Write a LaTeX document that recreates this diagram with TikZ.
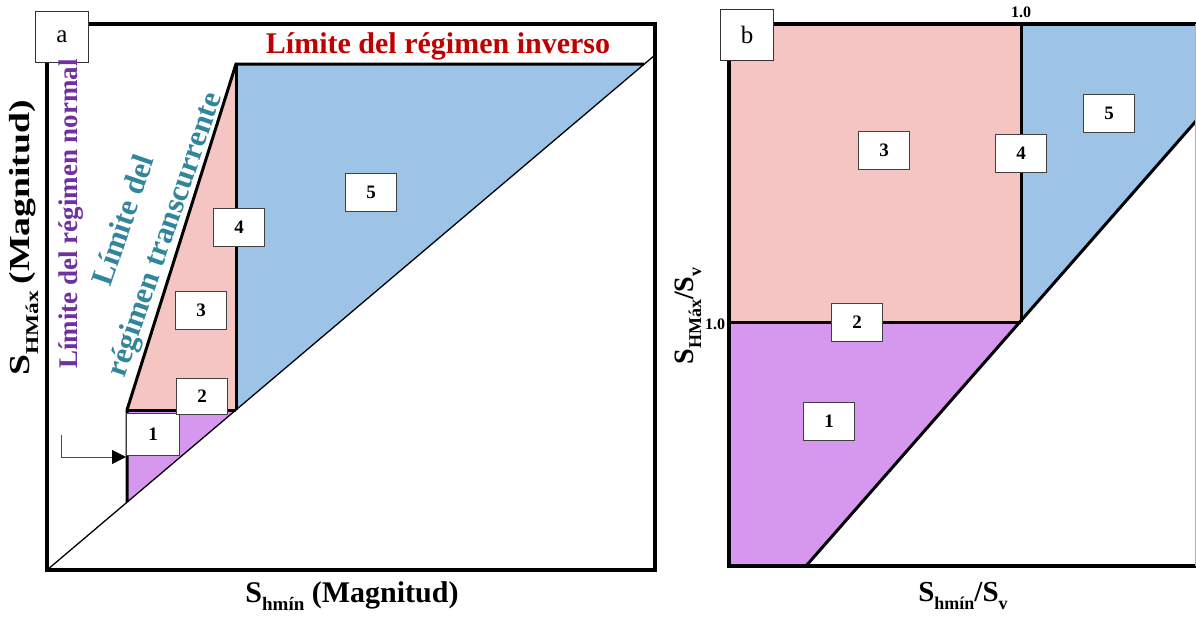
\documentclass[tikz,border=0pt]{standalone}
\usepackage{fontspec}
\usepackage{graphicx}
\setmainfont{Liberation Serif}
\usetikzlibrary{arrows.meta}
\definecolor{pinkc}{HTML}{F4C5C2}
\definecolor{bluec}{HTML}{9DC3E6}
\definecolor{purplec}{HTML}{D598EE}
\definecolor{purpletxt}{HTML}{7030A0}
\definecolor{tealtxt}{HTML}{31859C}
\definecolor{redtxt}{HTML}{C00000}
\newcommand{\mysub}[2]{\raisebox{-0.28em}{\fontsize{#1}{#1}\selectfont #2}}
\tikzset{
  numbox/.style={draw=black!75, fill=white, line width=0.9pt, minimum width=51pt, minimum height=38pt, inner sep=0pt, font=\bfseries\fontsize{19}{19}\selectfont},
  letterbox/.style={draw=black!80, fill=white, line width=1pt, minimum width=53pt, minimum height=51pt, inner sep=0pt, font=\fontsize{25}{25}\selectfont},
  frame/.style={line width=3.2pt},
  bound/.style={line width=3pt},
  ticklabel/.style={font=\bfseries\fontsize{16}{16}\selectfont, inner sep=0pt},
}
\begin{document}
\begin{tikzpicture}[x=1pt,y=-1pt]
\useasboundingbox (0,0) rectangle (1196,616);
% ---------- panel a ----------
\fill[pinkc] (127,410) -- (236,64) -- (236,410) -- cycle;
\fill[bluec] (236,64) -- (644,64) -- (236,410) -- cycle;
\fill[purplec] (127,410) -- (236,410) -- (127,502) -- cycle;
\node[font=\bfseries\fontsize{31}{43}\selectfont, text=tealtxt, rotate=71, align=center, inner sep=0pt] (tra) at (146,228) {Límite del\\régimen transcurrente};
\draw[line width=1.3pt] (47,570) -- (655,55);
\draw[bound, line join=miter] (127,502) -- (127,410) -- (236,64) -- (644,64);
\draw[bound] (127,410) -- (236,410);
\draw[bound] (236,64) -- (236,410);
\draw[frame] (47,24) rectangle (655,570);
\node[letterbox] (la) at (62,37) {a};
\node[numbox, minimum width=53pt, minimum height=42pt] (a1) at (153,434) {1};
\node[numbox, minimum height=36pt] (a2) at (202,396) {2};
\node[numbox] (a3) at (201,310) {3};
\node[numbox] (a4) at (239,227) {4};
\node[numbox] (a5) at (371,192) {5};
\node[font=\bfseries\fontsize{30}{30}\selectfont, text=redtxt] (inv) at (438,46) {Límite del régimen inverso};
\node[font=\bfseries\fontsize{27}{27}\selectfont, text=purpletxt, rotate=90] (nor) at (71,214) {Límite del régimen normal};
\coordinate (arrS) at (61,435);
\coordinate (arrT) at (126,457);
\draw[line width=0.8pt, black!70, -{Triangle[length=14pt,width=14pt,color=black,fill=black]}] (arrS) |- (arrT);
\node[font=\bfseries\fontsize{29}{29}\selectfont, rotate=90, inner sep=0pt] (ya) at (24,238) {\scalebox{1.3}[1]{S\mysub{18}{HMáx}\kern-2pt{} (Magnitud)}};
\node[font=\bfseries\fontsize{30}{30}\selectfont, inner sep=0pt] (xa) at (352,596) {S\mysub{19}{hmín} (Magnitud)};
% ---------- panel b ----------
\fill[pinkc] (729,24) rectangle (1021,322);
\fill[bluec] (1021,24) -- (1196,24) -- (1196,121) -- (1021,322) -- cycle;
\fill[purplec] (729,322) -- (1021,322) -- (806,566) -- (729,566) -- cycle;
\draw[bound] (729,322) -- (1021,322);
\draw[bound] (1021,24) -- (1021,322);
\draw[bound] (806,566) -- (1196,121);
\draw[frame] (729,24) -- (1196,24);
\draw[frame] (729,24) -- (729,566) -- (1196,566);
\draw[line width=1pt, black!30] (1195.5,24) -- (1195.5,566);
\node[letterbox] (lb) at (747,35) {b};
\node[numbox] (b1) at (829,421) {1};
\node[numbox] (b2) at (857,322) {2};
\node[numbox] (b3) at (884,150) {3};
\node[numbox] (b4) at (1021,153) {4};
\node[numbox] (b5) at (1109,113) {5};
\node[ticklabel] (t1) at (1021,12) {1.0};
\node[ticklabel] (t2) at (715,324) {1.0};
\node[font=\bfseries\fontsize{28}{28}\selectfont, rotate=90, inner sep=0pt] (yb) at (688,316) {S\mysub{18}{HMáx}/S\mysub{18}{v}};
\node[font=\bfseries\fontsize{29}{29}\selectfont, inner sep=0pt] (xb) at (963,596) {S\mysub{18}{hmín}/S\mysub{18}{v}};
\end{tikzpicture}
\end{document}
